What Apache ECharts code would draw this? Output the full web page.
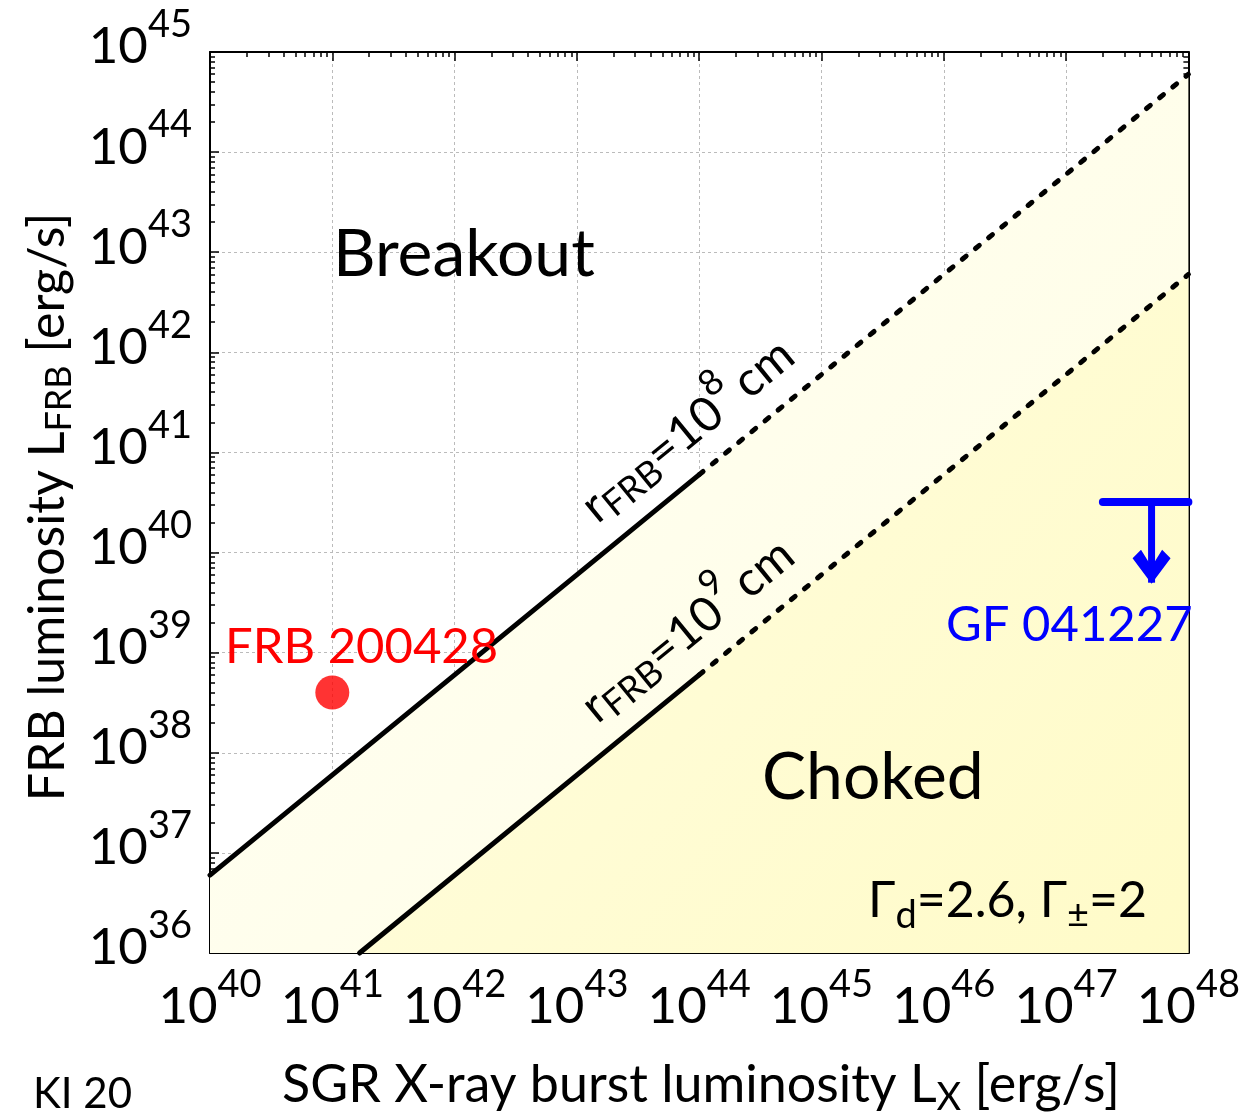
<!DOCTYPE html>
<html>
<head>
<meta charset="utf-8">
<script src="https://cdn.jsdelivr.net/npm/echarts@6/dist/echarts.min.js"></script>
<style>
  html, body { margin: 0; padding: 0; background: #fff; }
  #chart { width: 1243px; height: 1115px; }
</style>
</head>
<body>
<div id="chart"></div>
<script>
// axis ranges (decades)
const xDecades = [40, 48];
const yDecades = [36, 45];

// r_FRB = 1e8 cm boundary (solid where computed, dashed extrapolation)
const line8Solid = [[1e40, 6e36], [1e44, 6e40]];
const line8Dash = [[1e44, 6e40], [1e48, 6e44]];
// r_FRB = 1e9 cm boundary
const line9Solid = [[1.67e41, 1e36], [1e44, 6e38]];
const line9Dash = [[1e44, 6e38], [1e48, 6e42]];

// observed points
const frb200428 = [[1e41, 4e38]];
const gfLimitBar = [[2e47, 3.2e40], [1e48, 3.2e40]];
const gfArrow = [[5e47, 3.2e40], [5e47, 5e39]];

const FONT = "Lato";

function minorTicks(d) {
  let out = [];
  for (let e = d[0]; e < d[1]; e++) {
    for (let m = 2; m <= 9; m++) out.push(m * Math.pow(10, e));
  }
  return out;
}
const xMinor = minorTicks(xDecades);
const yMinor = minorTicks(yDecades);

// rich styles: b = base, s = superscript, u = subscript (all top aligned, shifted by padding)
function richSet(base, small, supShift, subShift) {
  let pb = Math.max(0, supShift + small / 2 - base / 2);
  let cb = pb + base / 2;
  let pu = cb + subShift - small / 2;
  let lh = Math.ceil(Math.max(pb + base, pu + small));
  let common = { fontFamily: FONT, color: "#000", verticalAlign: "top", lineHeight: lh };
  return {
    b: Object.assign({}, common, { fontSize: base, padding: [pb, 0, 0, 0] }),
    c: Object.assign({}, common, { fontSize: base, padding: [pb, 0, 0, 8] }),
    s: Object.assign({}, common, { fontSize: small, padding: [0, 0, 0, 0] }),
    u: Object.assign({}, common, { fontSize: small, padding: [pu, 0, 0, 0] })
  };
}

function tickLabel(v) {
  return "{b|10}{s|" + Math.round(Math.log10(v)) + "}";
}
const tickRich = richSet(51, 38, 22, 0);

let chart = echarts.init(document.getElementById("chart"));

function logAxis(pos, d, main, minorVals) {
  return {
    type: "log",
    logBase: 10,
    position: pos,
    min: Math.pow(10, d[0]),
    max: Math.pow(10, d[1]),
    splitNumber: d[1] - d[0],
    axisLine: { show: main, lineStyle: { color: "#000", width: 2 } },
    axisTick: minorVals
      ? { show: true, inside: true, length: 5, customValues: minorVals, lineStyle: { color: "#000", width: 1.5 } }
      : { show: true, inside: true, length: 9, lineStyle: { color: "#000", width: 1.5 } },
    axisLabel: { show: false },
    splitLine: { show: false }
  };
}

let xBottom = logAxis("bottom", xDecades, true, null);
xBottom.axisLabel = { show: true, margin: 13, formatter: tickLabel, rich: tickRich };
xBottom.splitLine = { show: true, lineStyle: { color: "#bbb", type: [3, 3], width: 1 } };
let yLeft = logAxis("left", yDecades, true, null);
yLeft.axisLabel = { show: true, margin: 18, padding: [0, 0, 25, 0], formatter: tickLabel, rich: tickRich };
yLeft.splitLine = { show: true, lineStyle: { color: "#bbb", type: [3, 3], width: 1 } };

// filled region below a boundary, drawn through the axes
function areaSeries(pts, colors, z) {
  return {
    type: "custom",
    coordinateSystem: "cartesian2d",
    z: z,
    silent: true,
    data: [0],
    renderItem: function (params, api) {
      let a = api.coord(pts[0]);
      let b = api.coord(pts[1]);
      let c = api.coord([pts[1][0], Math.pow(10, yDecades[0])]);
      let d = api.coord([pts[0][0], Math.pow(10, yDecades[0])]);
      return {
        type: "polygon",
        shape: { points: [a, b, c, d] },
        style: {
          fill: new echarts.graphic.LinearGradient(0, 0, 1, 1, [
            { offset: 0, color: colors[0] },
            { offset: 1, color: colors[1] }
          ])
        }
      };
    }
  };
}

function lineSeries(data, type, width, color) {
  return {
    type: "line",
    data: data,
    symbol: "none",
    z: 5,
    clip: false,
    lineStyle: { color: color || "#000", width: width, type: type, cap: "round" }
  };
}

function label(x, y, text, size, color) {
  return {
    type: "text", x: x, y: y, z: 100,
    style: { text: text, fontFamily: FONT, fontSize: size, fill: color || "#000", verticalAlign: "middle" }
  };
}

function richLabel(x, y, text, rich, rot, align) {
  return {
    type: "text", x: x, y: y, z: 100, rotation: rot || 0,
    style: { text: text, rich: rich, align: align || "center", verticalAlign: "middle" }
  };
}

const rRich = richSet(48, 36, 22, 10);
const rAngle = 39.25 * Math.PI / 180;
const titleRich = richSet(50, 36, 0, 12);
const xTitleRich = richSet(52, 38, 0, 12);

let option = {
  animation: false,
  backgroundColor: "#fff",
  grid: { left: 210, right: 53, top: 52, bottom: 162 },
  xAxis: [
    xBottom,
    logAxis("bottom", xDecades, false, xMinor),
    logAxis("top", xDecades, true, null),
    logAxis("top", xDecades, false, xMinor)
  ],
  yAxis: [
    yLeft,
    logAxis("left", yDecades, false, yMinor),
    logAxis("right", yDecades, true, null),
    logAxis("right", yDecades, false, yMinor)
  ],
  series: [
    areaSeries([line8Solid[0], line8Dash[1]], ["#fffff6", "#fffde2"], 1),
    areaSeries([line9Solid[0], line9Dash[1]], ["#fffde0", "#fffbc8"], 2),
    lineSeries(line8Solid, "solid", 5),
    lineSeries(line8Dash, [5, 12], 5),
    lineSeries(line9Solid, "solid", 5),
    lineSeries(line9Dash, [5, 12], 5),
    {
      type: "scatter",
      data: frb200428,
      symbol: "circle",
      symbolSize: 34,
      itemStyle: { color: "#ff0000" },
      z: 6
    },
    lineSeries(gfLimitBar, "solid", 8, "#0000ff"),
    {
      type: "line",
      data: [{ value: gfArrow[0], symbol: "none" }, gfArrow[1]],
      symbol: "path://M0,8 L8,0 L18,16 L28,0 L36,8 L18,32 Z",
      symbolSize: [38, 34],
      symbolOffset: [0, -16],
      showSymbol: true,
      showAllSymbol: true,
      clip: false,
      z: 6,
      lineStyle: { color: "#0000ff", width: 7 },
      itemStyle: { color: "#0000ff" }
    }
  ],
  graphic: [
    label(333, 255, "Breakout", 66),
    label(762, 778, "Choked", 66),
    label(225, 647, "FRB 200428", 49, "#ff0000"),
    label(946, 625, "GF 041227", 49, "#0000ff"),
    richLabel(868, 905, "{b|Γ}{u|d}{b|=2.6, Γ}{u|±}{b|=2}", richSet(50, 38, 0, 15), 0, "left"),
    richLabel(684, 426, "{b|r}{u|FRB}{b|=10}{s|8}{c|cm}", rRich, rAngle),
    richLabel(684, 626, "{b|r}{u|FRB}{b|=10}{s|9}{c|cm}", rRich, rAngle),
    richLabel(701, 1088, "{b|SGR X-ray burst luminosity L}{u|X}{b| [erg/s]}", xTitleRich, 0),
    richLabel(50, 507, "{b|FRB luminosity L}{u|FRB}{b| [erg/s]}", titleRich, Math.PI / 2),
    label(33, 1094, "KI 20", 42)
  ]
};
chart.setOption(option);
</script>
</body>
</html>
